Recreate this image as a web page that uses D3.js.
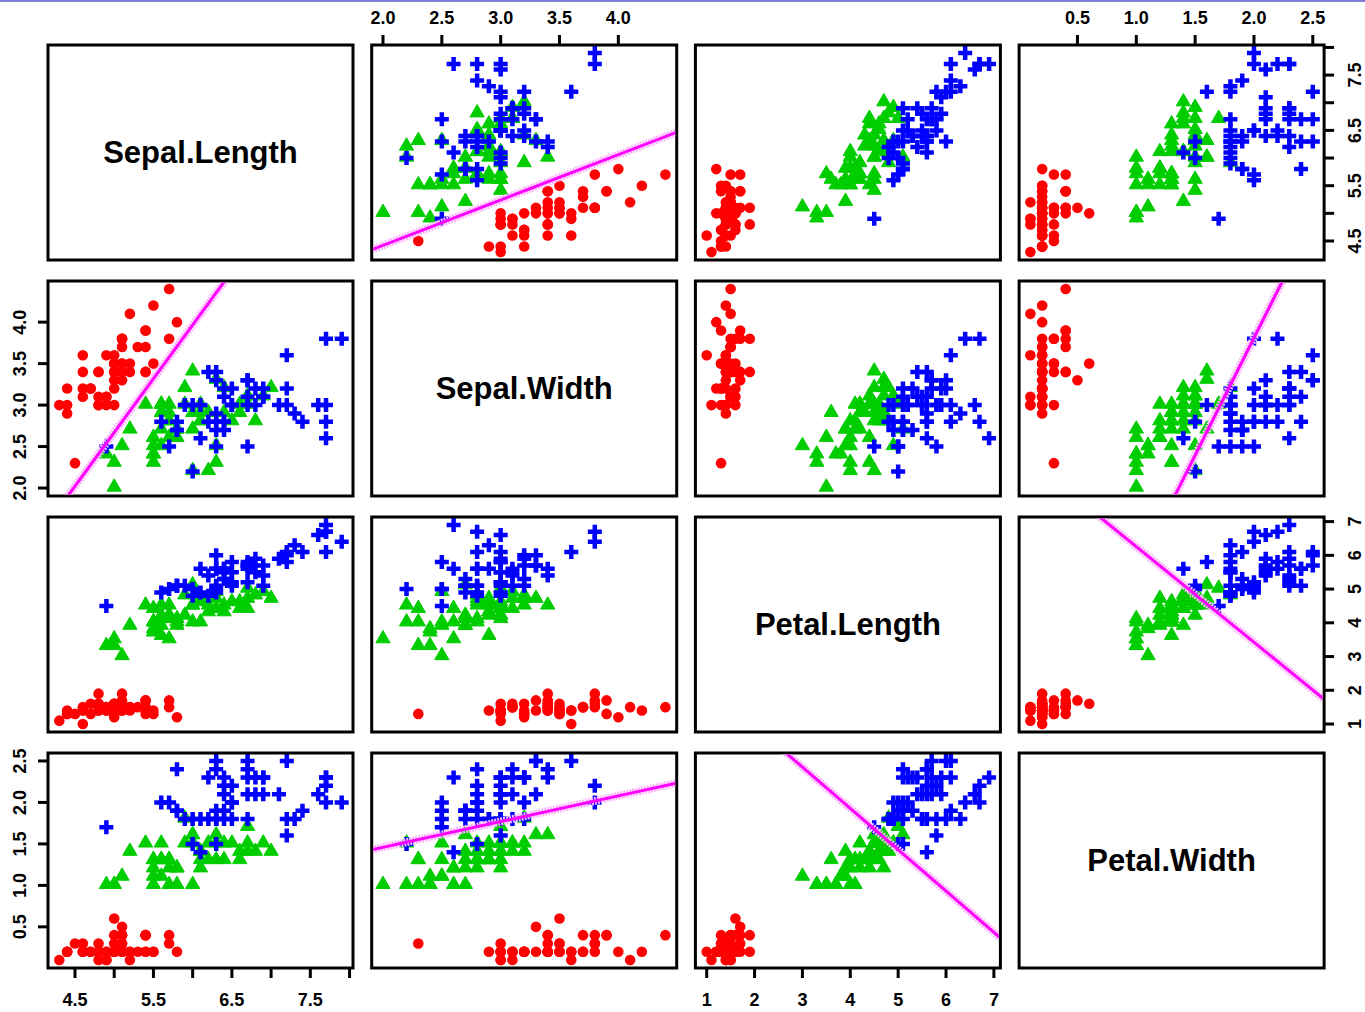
<!DOCTYPE html>
<html>
<head>
<meta charset="utf-8">
<script src="https://cdn.jsdelivr.net/npm/d3@7"></script>
<style>
  body { margin: 0; background: #fff; }
  text { font-family: "Liberation Sans", Arial, sans-serif; }
</style>
</head>
<body>
<svg id="chart" width="1365" height="1012"></svg>
<script>
// iris measurements, rows 1-150 (setosa, versicolor, virginica)
const varNames = ["Sepal.Length", "Sepal.Width", "Petal.Length", "Petal.Width"];

const sepalLength = [
  5.1,4.9,4.7,4.6,5.0,5.4,4.6,5.0,4.4,4.9,5.4,4.8,4.8,4.3,5.8,5.7,5.4,5.1,5.7,5.1,5.4,5.1,4.6,5.1,4.8,
  5.0,5.0,5.2,5.2,4.7,4.8,5.4,5.2,5.5,4.9,5.0,5.5,4.9,4.4,5.1,5.0,4.5,4.4,5.0,5.1,4.8,5.1,4.6,5.3,5.0,
  7.0,6.4,6.9,5.5,6.5,5.7,6.3,4.9,6.6,5.2,5.0,5.9,6.0,6.1,5.6,6.7,5.6,5.8,6.2,5.6,5.9,6.1,6.3,6.1,6.4,
  6.6,6.8,6.7,6.0,5.7,5.5,5.5,5.8,6.0,5.4,6.0,6.7,6.3,5.6,5.5,5.5,6.1,5.8,5.0,5.6,5.7,5.7,6.2,5.1,5.7,
  6.3,5.8,7.1,6.3,6.5,7.6,4.9,7.3,6.7,7.2,6.5,6.4,6.8,5.7,5.8,6.4,6.5,7.7,7.7,6.0,6.9,5.6,7.7,6.3,6.7,
  7.2,6.2,6.1,6.4,7.2,7.4,7.9,6.4,6.3,6.1,7.7,6.3,6.4,6.0,6.9,6.7,6.9,5.8,6.8,6.7,6.7,6.3,6.5,6.2,5.9
];
const sepalWidth = [
  3.5,3.0,3.2,3.1,3.6,3.9,3.4,3.4,2.9,3.1,3.7,3.4,3.0,3.0,4.0,4.4,3.9,3.5,3.8,3.8,3.4,3.7,3.6,3.3,3.4,
  3.0,3.4,3.5,3.4,3.2,3.1,3.4,4.1,4.2,3.1,3.2,3.5,3.6,3.0,3.4,3.5,2.3,3.2,3.5,3.8,3.0,3.8,3.2,3.7,3.3,
  3.2,3.2,3.1,2.3,2.8,2.8,3.3,2.4,2.9,2.7,2.0,3.0,2.2,2.9,2.9,3.1,3.0,2.7,2.2,2.5,3.2,2.8,2.5,2.8,2.9,
  3.0,2.8,3.0,2.9,2.6,2.4,2.4,2.7,2.7,3.0,3.4,3.1,2.3,3.0,2.5,2.6,3.0,2.6,2.3,2.7,3.0,2.9,2.9,2.5,2.8,
  3.3,2.7,3.0,2.9,3.0,3.0,2.5,2.9,2.5,3.6,3.2,2.7,3.0,2.5,2.8,3.2,3.0,3.8,2.6,2.2,3.2,2.8,2.8,2.7,3.3,
  3.2,2.8,3.0,2.8,3.0,2.8,3.8,2.8,2.8,2.6,3.0,3.4,3.1,3.0,3.1,3.1,3.1,2.7,3.2,3.3,3.0,2.5,3.0,3.4,3.0
];
const petalLength = [
  1.4,1.4,1.3,1.5,1.4,1.7,1.4,1.5,1.4,1.5,1.5,1.6,1.4,1.1,1.2,1.5,1.3,1.4,1.7,1.5,1.7,1.5,1.0,1.7,1.9,
  1.6,1.6,1.5,1.4,1.6,1.6,1.5,1.5,1.4,1.5,1.2,1.3,1.4,1.3,1.5,1.3,1.3,1.3,1.6,1.9,1.4,1.6,1.4,1.5,1.4,
  4.7,4.5,4.9,4.0,4.6,4.5,4.7,3.3,4.6,3.9,3.5,4.2,4.0,4.7,3.6,4.4,4.5,4.1,4.5,3.9,4.8,4.0,4.9,4.7,4.3,
  4.4,4.8,5.0,4.5,3.5,3.8,3.7,3.9,5.1,4.5,4.5,4.7,4.4,4.1,4.0,4.4,4.6,4.0,3.3,4.2,4.2,4.2,4.3,3.0,4.1,
  6.0,5.1,5.9,5.6,5.8,6.6,4.5,6.3,5.8,6.1,5.1,5.3,5.5,5.0,5.1,5.3,5.5,6.7,6.9,5.0,5.7,4.9,6.7,4.9,5.7,
  6.0,4.8,4.9,5.6,5.8,6.1,6.4,5.6,5.1,5.6,6.1,5.6,5.5,4.8,5.4,5.6,5.1,5.1,5.9,5.7,5.2,5.0,5.2,5.4,5.1
];
const petalWidth = [
  0.2,0.2,0.2,0.2,0.2,0.4,0.3,0.2,0.2,0.1,0.2,0.2,0.1,0.1,0.2,0.4,0.4,0.3,0.3,0.3,0.2,0.4,0.2,0.5,0.2,
  0.2,0.4,0.2,0.2,0.2,0.2,0.4,0.1,0.2,0.2,0.2,0.2,0.1,0.2,0.2,0.3,0.3,0.2,0.6,0.4,0.3,0.2,0.2,0.2,0.2,
  1.4,1.5,1.5,1.3,1.5,1.3,1.6,1.0,1.3,1.4,1.0,1.5,1.0,1.4,1.3,1.4,1.5,1.0,1.5,1.1,1.8,1.3,1.5,1.2,1.3,
  1.4,1.4,1.7,1.5,1.0,1.1,1.0,1.2,1.6,1.5,1.6,1.5,1.3,1.3,1.3,1.2,1.4,1.2,1.0,1.3,1.2,1.3,1.3,1.1,1.3,
  2.5,1.9,2.1,1.8,2.2,2.1,1.7,1.8,1.8,2.5,2.0,1.9,2.1,2.0,2.4,2.3,1.8,2.2,2.3,1.5,2.3,2.0,2.0,1.8,2.1,
  1.8,1.8,1.8,2.1,1.6,1.9,2.0,2.2,1.5,1.4,2.3,2.4,1.8,1.8,2.1,2.4,2.3,1.9,2.3,2.5,2.3,1.9,2.0,2.3,1.8
];

const speciesNames = ["setosa", "versicolor", "virginica"];
const speciesSizes = [50, 50, 50];
const speciesColors = ["#ff0000", "#00cd00", "#0000ff"];

const tickValues = [
  [4.5, 5, 5.5, 6, 6.5, 7, 7.5, 8],
  [2, 2.5, 3, 3.5, 4],
  [1, 2, 3, 4, 5, 6, 7],
  [0.5, 1, 1.5, 2, 2.5]
];
const tickLabels = [
  ["4.5", "", "5.5", "", "6.5", "", "7.5", ""],
  ["2.0", "2.5", "3.0", "3.5", "4.0"],
  ["1", "2", "3", "4", "5", "6", "7"],
  ["0.5", "1.0", "1.5", "2.0", "2.5"]
];

// magenta fitted lines: y = intercept + slope * x, in the panel's data units
const fitRows = [0, 1, 1, 2, 3, 3];
const fitCols = [1, 0, 3, 3, 1, 2];
const fitIntercepts = [2.78, -3.81, -1.85, 9.09, 0.84, 3.92];
const fitSlopes = [0.82, 1.296, 2.83, -2.833, 0.31, -0.498];

// ---------------------------------------------------------------
const columns = [sepalLength, sepalWidth, petalLength, petalWidth];
const rows = [];
let start = 0;
speciesSizes.forEach((n, s) => {
  for (let k = 0; k < n; k++) {
    rows.push({ sp: s, v: columns.map(c => c[start + k]) });
  }
  start += n;
});

const svg = d3.select("#chart");

svg.append("rect")
  .attr("x", 0).attr("y", 0).attr("width", 1365).attr("height", 2)
  .attr("fill", "#7f7fd6");

const panelW = 305, panelH = 215;
const colStep = 323.7, rowStep = 236;
const left0 = 48, top0 = 45;

// R style 4% extended ranges
const domains = columns.map(c => {
  const e = d3.extent(c);
  const pad = (e[1] - e[0]) * 0.04;
  return [e[0] - pad, e[1] + pad];
});
const xs = domains.map(d => d3.scaleLinear().domain(d).range([0, panelW]));
const ys = domains.map(d => d3.scaleLinear().domain(d).range([panelH, 0]));

const triangle = d3.symbol().type(d3.symbolTriangle).size(88)();

for (let i = 0; i < 4; i++) {
  for (let j = 0; j < 4; j++) {
    const g = svg.append("g")
      .attr("transform", `translate(${left0 + j * colStep},${top0 + i * rowStep})`);

    if (i === j) {
      g.append("text")
        .attr("x", panelW / 2).attr("y", panelH / 2)
        .attr("text-anchor", "middle")
        .attr("dominant-baseline", "central")
        .attr("font-size", 31)
        .attr("font-weight", "bold")
        .text(varNames[i]);
    } else {
      const x = xs[j], y = ys[i];
      const pts = g.append("g");
      pts.selectAll("circle")
        .data(rows.filter(d => d.sp === 0))
        .join("circle")
          .attr("cx", d => x(d.v[j]))
          .attr("cy", d => y(d.v[i]))
          .attr("r", 5.3)
          .attr("fill", speciesColors[0]);
      pts.selectAll("path.tri")
        .data(rows.filter(d => d.sp === 1))
        .join("path")
          .attr("class", "tri")
          .attr("transform", d => `translate(${x(d.v[j])},${y(d.v[i]) - 1})`)
          .attr("d", triangle)
          .attr("fill", speciesColors[1])
          .attr("stroke", speciesColors[1])
          .attr("stroke-width", 1)
          .attr("stroke-linejoin", "round");
      pts.selectAll("path.plus")
        .data(rows.filter(d => d.sp === 2))
        .join("path")
          .attr("class", "plus")
          .attr("d", d => {
            const cx = x(d.v[j]), cy = y(d.v[i]);
            return `M${cx - 7},${cy}H${cx + 7}M${cx},${cy - 7}V${cy + 7}`;
          })
          .attr("stroke", speciesColors[2])
          .attr("stroke-width", 4.5)
          .attr("fill", "none");
    }

    g.append("rect")
      .attr("width", panelW).attr("height", panelH)
      .attr("fill", "none")
      .attr("stroke", "#000")
      .attr("stroke-width", 3);
  }
}

// fitted lines, clipped to their panel
fitRows.forEach((r, k) => {
  const c = fitCols[k];
  const g = svg.append("g")
    .attr("transform", `translate(${left0 + c * colStep},${top0 + r * rowStep})`);
  const id = "clip" + k;
  g.append("clipPath").attr("id", id)
    .append("rect").attr("x", 1.5).attr("y", 1.5)
    .attr("width", panelW - 3).attr("height", panelH - 3);
  const xd = domains[c];
  const seg = xd.map(v => [xs[c](v), ys[r](fitIntercepts[k] + fitSlopes[k] * v)]);
  const line = d3.line();
  g.append("path")
    .attr("clip-path", `url(#${id})`)
    .attr("d", line(seg))
    .attr("stroke", "#ffb4ff")
    .attr("stroke-width", 8)
    .attr("stroke-dasharray", "2 1")
    .attr("fill", "none");
  g.append("path")
    .attr("clip-path", `url(#${id})`)
    .attr("d", line(seg))
    .attr("stroke", "#ff00ff")
    .attr("stroke-width", 3)
    .attr("fill", "none");
});

// axes, R pairs style: alternate sides
function axisTicks(side, index, pos) {
  const vals = tickValues[index], labs = tickLabels[index];
  const g = svg.append("g");
  vals.forEach((v, k) => {
    let x1, y1, x2, y2, tx, ty, rot = 0;
    if (side === "top") {
      x1 = x2 = pos.x + xs[index](v); y1 = pos.y; y2 = pos.y - 10;
      tx = x1; ty = pos.y - 21;
    } else if (side === "bottom") {
      x1 = x2 = pos.x + xs[index](v); y1 = pos.y + panelH; y2 = y1 + 10;
      tx = x1; ty = y1 + 38;
    } else if (side === "left") {
      y1 = y2 = pos.y + ys[index](v); x1 = pos.x; x2 = pos.x - 10;
      tx = pos.x - 22; ty = y1; rot = -90;
    } else {
      y1 = y2 = pos.y + ys[index](v); x1 = pos.x + panelW; x2 = x1 + 10;
      tx = x1 + 37; ty = y1; rot = -90;
    }
    g.append("line")
      .attr("x1", x1).attr("y1", y1).attr("x2", x2).attr("y2", y2)
      .attr("stroke", "#000").attr("stroke-width", 3);
    if (labs[k]) {
      g.append("text")
        .attr("transform", `translate(${tx},${ty}) rotate(${rot})`)
        .attr("text-anchor", "middle")
        .attr("font-size", 18)
        .attr("font-weight", "bold")
        .text(labs[k]);
    }
  });
}

const at = (r, c) => ({ x: left0 + c * colStep, y: top0 + r * rowStep });
axisTicks("top", 1, at(0, 1));
axisTicks("top", 3, at(0, 3));
axisTicks("bottom", 0, at(3, 0));
axisTicks("bottom", 2, at(3, 2));
axisTicks("left", 1, at(1, 0));
axisTicks("left", 3, at(3, 0));
axisTicks("right", 0, at(0, 3));
axisTicks("right", 2, at(2, 3));
</script>
</body>
</html>
